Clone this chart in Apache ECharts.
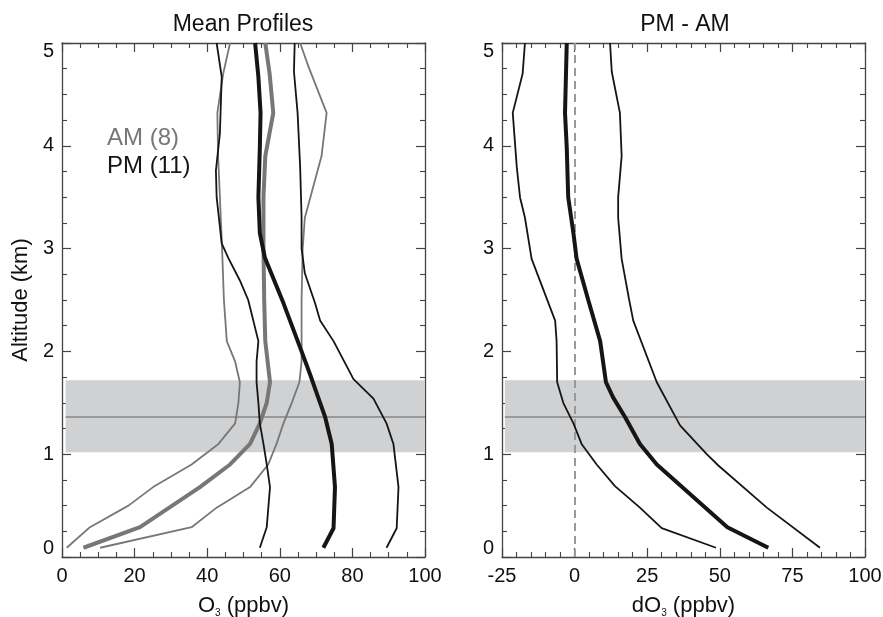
<!DOCTYPE html>
<html>
<head>
<meta charset="utf-8">
<script src="https://cdn.jsdelivr.net/npm/echarts@6/dist/echarts.min.js"></script>
</head>
<body style="margin:0">
<div id="container" style="width:883px;height:617px"></div>
<script>
// profiles as [ozone (ppbv), altitude (km)]
var amLow = [[1.3,0.09],[7.7,0.29],[18.3,0.5],[25.1,0.68],[35.7,0.9],[43.1,1.1],[47.7,1.3],[48.6,1.5],[49,1.7],[47.7,1.9],[45.4,2.1],[44.6,2.5],[44.1,3],[43.5,3.5],[43,3.9],[42.8,4.32],[44.4,4.7],[46.3,5]];
var amMean = [[5.9,0.09],[21.5,0.29],[38,0.68],[46.3,0.9],[51.8,1.1],[54.5,1.3],[56.4,1.5],[57.3,1.7],[56,2.1],[55.7,2.5],[55.5,3],[55.5,3.5],[56,3.9],[58.2,4.32],[57.2,4.7],[56,5]];
var amHigh = [[10.5,0.09],[35.7,0.29],[42.6,0.48],[51.8,0.68],[56.8,0.9],[59.1,1.1],[61,1.3],[63.3,1.5],[65.4,1.7],[66,1.9],[66,2.5],[66.3,3],[66.9,3.3],[71.5,3.9],[72.9,4.32],[67.9,4.77],[65.6,5]];
var pmLow = [[54.5,0.09],[56.4,0.29],[57.3,0.68],[56.4,0.9],[55.5,1.1],[54.5,1.3],[54.1,1.5],[53.6,1.7],[53.6,1.9],[54.1,2.1],[51.3,2.5],[49,2.69],[45.8,2.91],[44,3.05],[42.6,3.5],[42.4,3.76],[43.5,4.12],[44,4.67],[42.6,5]];
var pmMean = [[72,0.09],[74.8,0.28],[75.2,0.68],[74.3,1.1],[72.5,1.36],[70.2,1.59],[68.3,1.78],[66,2.0],[61,2.47],[55.9,2.91],[54.5,3.15],[54.1,3.5],[54.5,3.98],[54.7,4.32],[54.1,4.67],[53.2,5]];
var pmHigh = [[89.4,0.09],[92.2,0.28],[92.7,0.68],[91.3,1.1],[89.4,1.3],[85.8,1.54],[80.3,1.73],[74.8,2.1],[71.1,2.3],[69.7,2.47],[66.9,2.76],[66,3],[66,3.31],[65.6,3.8],[64.9,4.32],[63.9,4.72],[64.1,5]];

// PM - AM difference, [dO3 (ppbv), altitude (km)]
var dLow = [[48.7,0.09],[30,0.28],[22.5,0.48],[13.9,0.69],[7.6,0.9],[2.4,1.1],[-0.4,1.3],[-3.9,1.5],[-6,1.7],[-6.2,2.1],[-6.7,2.3],[-14.8,2.9],[-17.1,3.3],[-18.8,3.5],[-19.9,3.79],[-21.3,4.32],[-17.9,4.7],[-17.1,5]];
var dMean = [[66.7,0.09],[52.6,0.29],[28.3,0.9],[22.5,1.1],[17.4,1.36],[13.3,1.55],[10.8,1.7],[8.8,2.1],[4.7,2.5],[0.7,2.9],[-0.4,3.15],[-2.2,3.5],[-2.7,3.98],[-3.3,4.32],[-2.7,5]];
var dHigh = [[84.5,0.09],[66.2,0.48],[49.5,0.89],[45.5,1.0],[36.3,1.28],[28.3,1.7],[20.2,2.3],[18.8,2.5],[16.2,2.9],[15,3.3],[15,3.5],[16.2,3.9],[15.6,4.32],[12.8,4.72],[12.2,5]];

// boundary layer band and mean height (km)
var bandLow = 1.02, bandHigh = 1.72, bandMid = 1.36;

var FONT = '"Liberation Sans", Arial, sans-serif';
var myChart = echarts.init(document.getElementById('container'), null, { renderer: 'canvas' });

var axisLine = { show: true, onZero: false, lineStyle: { color: '#444', width: 1.3 } };
var axisTick = { show: true, inside: true, length: 9, lineStyle: { color: '#444', width: 1.2 } };

function xAx(grid, min, max, interval, minorSplit, pos, name) {
  return {
    gridIndex: grid, type: 'value', min: min, max: max, interval: interval, position: pos,
    axisLine: axisLine, axisTick: axisTick,
    minorTick: { show: true, splitNumber: minorSplit, length: 5, lineStyle: { color: '#444', width: 1.1 } },
    splitLine: { show: false },
    axisLabel: { show: pos === 'bottom', fontSize: 20, margin: 9, color: '#111', fontFamily: FONT },
    name: name, nameLocation: 'middle', nameGap: 37,
    nameTextStyle: {
      fontSize: 22, color: '#111', fontFamily: FONT,
      rich: {
        n: { fontSize: 22, lineHeight: 24, color: '#111', fontFamily: FONT },
        s: { fontSize: 10, lineHeight: 10, color: '#111', fontFamily: FONT, verticalAlign: 'bottom' }
      }
    }
  };
}
function yAx(grid, pos, name) {
  return {
    gridIndex: grid, type: 'value', min: 0, max: 5, interval: 1, position: pos,
    axisLine: axisLine, axisTick: axisTick,
    minorTick: { show: true, splitNumber: 4, length: 5, lineStyle: { color: '#444', width: 1.1 } },
    splitLine: { show: false },
    axisLabel: { show: pos === 'left', fontSize: 20, lineHeight: 17, margin: 8, color: '#111', fontFamily: FONT,
      verticalAlignMinLabel: 'bottom', verticalAlignMaxLabel: 'top' },
    name: name, nameLocation: 'middle', nameGap: 30,
    nameTextStyle: { fontSize: 22, color: '#111', fontFamily: FONT }
  };
}
function prof(data, xi, color, width) {
  return {
    type: 'line', xAxisIndex: xi, yAxisIndex: xi, data: data, symbol: 'none', z: 5,
    lineStyle: { color: color, width: width }, silent: true
  };
}
function band(xi, xmin, xmax, dashed) {
  var s = {
    type: 'line', xAxisIndex: xi, yAxisIndex: xi, data: [], z: 1, silent: true,
    markArea: { silent: true, itemStyle: { color: '#d0d1d3' },
      data: [[{ coord: [xmin, bandLow] }, { coord: [xmax, bandHigh] }]] },
    markLine: { silent: true, symbol: 'none', label: { show: false },
      lineStyle: { color: '#999', width: 2, type: 'solid' },
      data: [[{ coord: [xmin, bandMid] }, { coord: [xmax, bandMid] }]] }
  };
  if (dashed) {
    s.markLine.data.push([
      { coord: [0, 0], lineStyle: { color: '#999', width: 2, type: [8, 5] } },
      { coord: [0, 5] }
    ]);
  }
  return s;
}

var GRAY = '#777', BLACK = '#151515';

var option = {
  animation: false,
  backgroundColor: '#fff',
  title: [
    { text: 'Mean Profiles', left: 238, top: 8, textAlign: 'center',
      textStyle: { fontSize: 23, fontWeight: 'normal', color: '#111', fontFamily: FONT } },
    { text: 'PM - AM', left: 680, top: 8, textAlign: 'center',
      textStyle: { fontSize: 23, fontWeight: 'normal', color: '#111', fontFamily: FONT } }
  ],
  grid: [
    { left: 62, right: 458, top: 43, bottom: 60, outerBoundsMode: 'none' },
    { left: 502, right: 18, top: 43, bottom: 60, outerBoundsMode: 'none' }
  ],
  xAxis: [
    xAx(0, 0, 100, 20, 4, 'bottom', '{n|O}{s|3}{n| (ppbv)}'),
    xAx(0, 0, 100, 20, 4, 'top', ''),
    xAx(1, -25, 100, 25, 5, 'bottom', '{n|dO}{s|3}{n| (ppbv)}'),
    xAx(1, -25, 100, 25, 5, 'top', '')
  ],
  yAxis: [
    yAx(0, 'left', 'Altitude (km)'),
    yAx(0, 'right', ''),
    yAx(1, 'left', ''),
    yAx(1, 'right', '')
  ],
  graphic: [
    { type: 'text', left: 107, top: 126, style: { text: 'AM (8)', fill: GRAY, font: '24px ' + FONT } },
    { type: 'text', left: 107, top: 154, style: { text: 'PM (11)', fill: BLACK, font: '24px ' + FONT } }
  ],
  series: [
    band(0, 1, 100, false),
    prof(amLow, 0, GRAY, 1.8),
    prof(amHigh, 0, GRAY, 1.8),
    prof(amMean, 0, GRAY, 4),
    prof(pmLow, 0, BLACK, 1.8),
    prof(pmHigh, 0, BLACK, 1.8),
    prof(pmMean, 0, BLACK, 4),
    band(2, -24, 100, true),
    prof(dLow, 2, BLACK, 1.8),
    prof(dHigh, 2, BLACK, 1.8),
    prof(dMean, 2, BLACK, 4)
  ]
};
myChart.setOption(option);
window.addEventListener('resize', myChart.resize);
</script>
</body>
</html>
